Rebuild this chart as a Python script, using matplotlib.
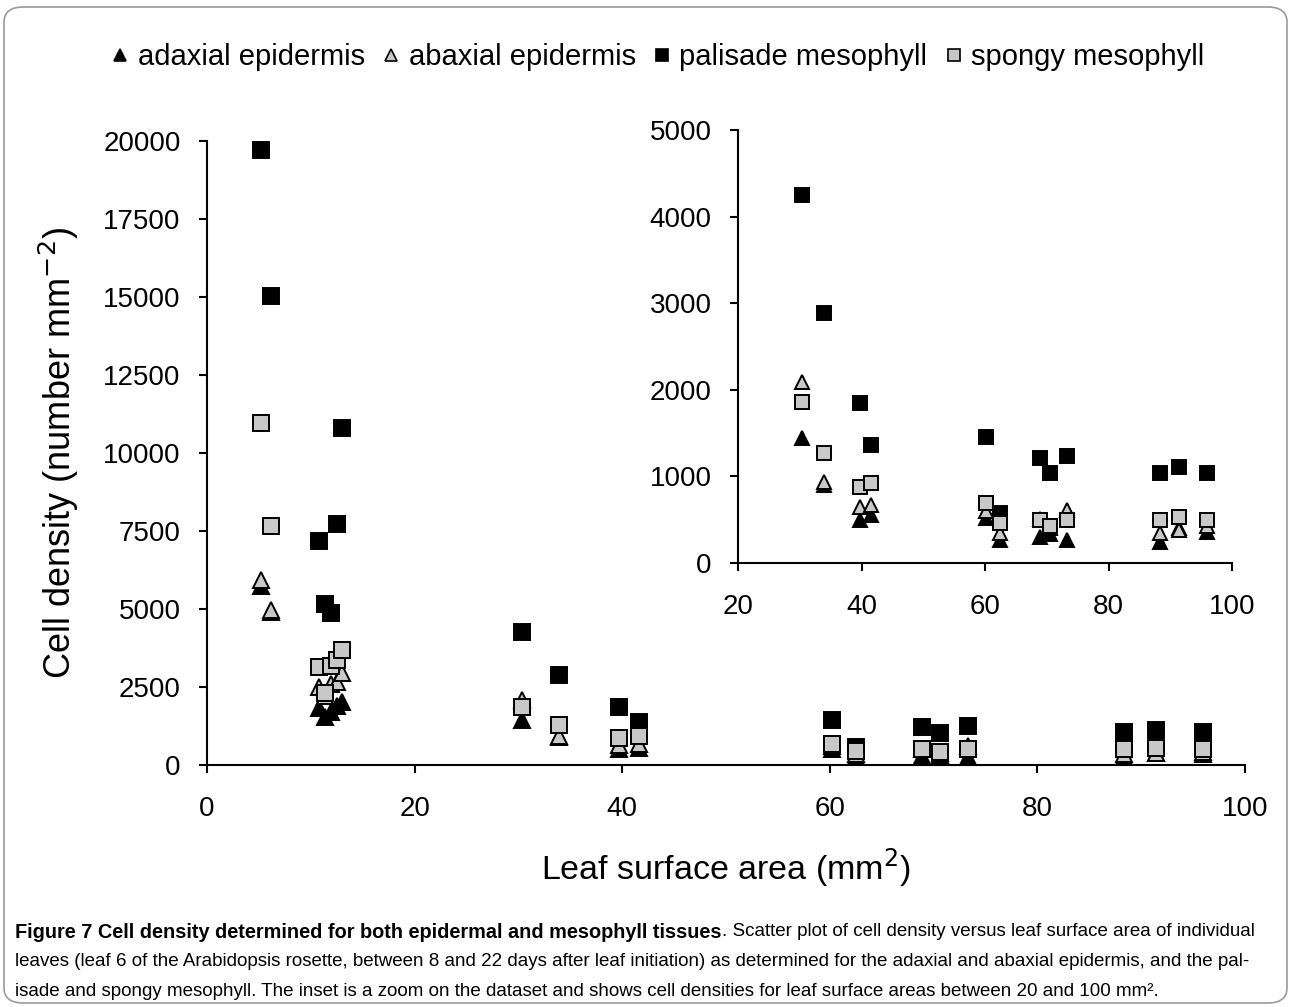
import matplotlib
matplotlib.use("Agg")
import matplotlib.pyplot as plt
from matplotlib.patches import FancyBboxPatch
from matplotlib.lines import Line2D

plt.rcParams['font.family'] = ['Liberation Sans', 'DejaVu Sans']

# ---- data (one x per leaf, shared by the four tissues) ----
leaf_area = [5.2, 6.2, 10.8, 11.4, 11.9, 12.5, 13.0,
             30.3, 33.9, 39.7, 41.6, 60.2, 62.5, 68.9, 70.6, 73.3, 88.3, 91.4, 96.0]
adaxial = [5750, 4900, 1815, 1550, 1700, 1900, 2030,
           1440, 900, 497, 560, 520, 266, 304, 330, 260, 246, 400, 361]
abaxial = [5930, 4970, 2500, 2200, 2600, 2670, 2950,
           2094, 939, 650, 670, 600, 350, 508, 400, 612, 343, 381, 430]
palisade = [19700, 15030, 7190, 5160, 4880, 7740, 10810,
            4249, 2883, 1844, 1363, 1458, 574, 1209, 1036, 1236, 1043, 1112, 1043]
spongy = [10970, 7670, 3130, 2300, 3170, 3365, 3690,
          1856, 1267, 874, 920, 689, 458, 497, 427, 497, 497, 535, 497]

series_names = ["adaxial epidermis", "abaxial epidermis", "palisade mesophyll", "spongy mesophyll"]
main_xticks = [0, 20, 40, 60, 80, 100]
main_yticks = [0, 2500, 5000, 7500, 10000, 12500, 15000, 17500, 20000]
inset_xticks = [20, 40, 60, 80, 100]
inset_yticks = [0, 1000, 2000, 3000, 4000, 5000]

W, H = 1292, 1007
fig = plt.figure(figsize=(W / 100, H / 100), dpi=100)

styles = [
    dict(marker='^', mfc='black', mec='black'),
    dict(marker='^', mfc='#c8c8c8', mec='black'),
    dict(marker='s', mfc='black', mec='black'),
    dict(marker='s', mfc='#c8c8c8', mec='black'),
]
values = [adaxial, abaxial, palisade, spongy]


def style_axes(ax, xt, yt, xlim, ylim):
    ax.set_xlim(*xlim)
    ax.set_ylim(*ylim)
    ax.set_xticks(xt)
    ax.set_yticks(yt)
    for s in ['top', 'right']:
        ax.spines[s].set_visible(False)
    for s in ['left', 'bottom']:
        ax.spines[s].set_linewidth(1.5)
        ax.spines[s].set_color('black')
    ax.tick_params(axis='both', direction='out', length=6, width=1.5,
                   labelsize=20, colors='black')
    ax.tick_params(axis='y', pad=13)
    ax.tick_params(axis='x', pad=16)
    ax.patch.set_alpha(0)


def draw(ax, ms):
    for vals, st, name in zip(values, styles, series_names):
        ax.plot(leaf_area, vals, linestyle='none', markersize=ms,
                markeredgewidth=1.4, label=name, clip_on=True, **st)


# main axes
ax = fig.add_axes([207 / W, 1 - 765 / H, (1245 - 207) / W, (765 - 141) / H])
style_axes(ax, main_xticks, main_yticks, (0, 100), (0, 20000))
draw(ax, 11)
ax.set_xlabel("Leaf surface area (mm$^{2}$)", fontsize=24.5, labelpad=18)
ax.set_ylabel("Cell density (number mm$^{-2}$)", fontsize=26, labelpad=16)

# inset axes
axi = fig.add_axes([738 / W, 1 - 563 / H, (1232 - 738) / W, (563 - 130) / H])
style_axes(axi, inset_xticks, inset_yticks, (20, 100), (0, 5000))
draw(axi, 10.5)

# legend
handles = [Line2D([], [], linestyle='none', markersize=9, markeredgewidth=1.2, **st)
           for st in styles]
fig.legend(handles, series_names, loc='center', bbox_to_anchor=(658 / W, 1 - 57 / H),
           ncol=4, frameon=False, fontsize=21, handlelength=0.6, handletextpad=0.3,
           columnspacing=0.6, borderaxespad=0)

# border
fig.patches.append(FancyBboxPatch((4 / W, 1 - 1003 / H), (1287 - 4) / W, (1003 - 7) / H,
                                  boxstyle="round,pad=0,rounding_size=0.015",
                                  transform=fig.transFigure, fill=False,
                                  edgecolor='#9a9a9a', linewidth=1.2))

# caption
cap_bold = "Figure 7 Cell density determined for both epidermal and mesophyll tissues"
cap_rest1 = ". Scatter plot of cell density versus leaf surface area of individual"
cap_line2 = ("leaves (leaf 6 of the Arabidopsis rosette, between 8 and 22 days after leaf "
             "initiation) as determined for the adaxial and abaxial epidermis, and the pal-")
cap_line3 = ("isade and spongy mesophyll. The inset is a zoom on the dataset and shows cell "
             "densities for leaf surface areas between 20 and 100 mm\u00b2.")
cap_fs = 13.5
x0 = 15 / W
t1 = fig.text(x0, 1 - 932 / H, cap_bold, fontsize=14.3, fontweight='bold', va='center')
fig.canvas.draw()
bb = t1.get_window_extent(fig.canvas.get_renderer())
fig.text(bb.x1 / W, 1 - 932 / H, cap_rest1, fontsize=cap_fs, va='center')
fig.text(x0, 1 - 962 / H, cap_line2, fontsize=cap_fs, va='center')
fig.text(x0, 1 - 991 / H, cap_line3, fontsize=cap_fs, va='center')

fig.savefig("out.png", dpi=100)
